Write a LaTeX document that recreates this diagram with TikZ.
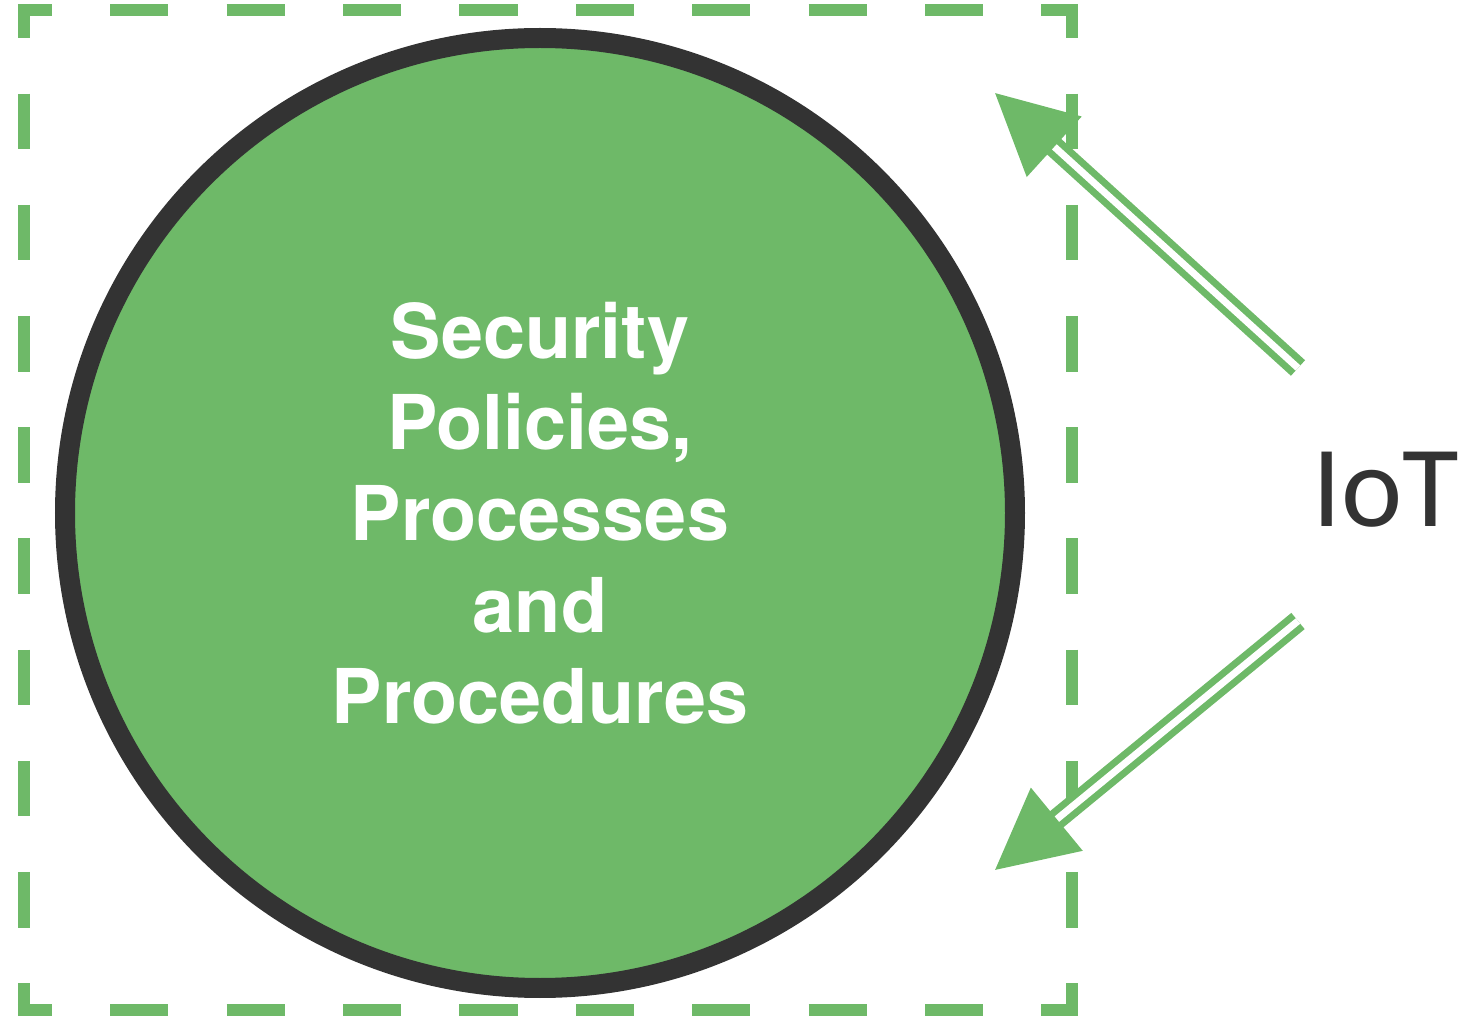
\documentclass[tikz,border=0pt]{standalone}
\usepackage{fontspec}
\setmainfont{TeX Gyre Heros}
\newfontfamily\iotfont{Carlito}
\usetikzlibrary{arrows.meta,positioning}
\definecolor{secgreen}{RGB}{110,185,104}
\definecolor{ringgray}{RGB}{51,51,51}

\tikzset{
	policy/.style={circle,draw=ringgray,fill=secgreen,line width=0.2cm,
		minimum size=9.5cm,inner sep=0pt,text=white,align=center,
		font=\bfseries\fontsize{21.5}{26}\selectfont},
	iotlabel/.style={text=ringgray,font=\iotfont\fontsize{33}{36}\selectfont},
	iotarrow/.style={draw=secgreen,line width=0.07cm,double=white,
		double distance=0.07cm,-{Triangle[length=0.8cm,width=0.8cm]}},
	framedash/.style={secgreen,line width=0.12cm}
}

\begin{document}
\begin{tikzpicture}
	
	\useasboundingbox (0,0) rectangle (14.68,10.18);
	
	% dashed frame, one side at a time so each corner gets its own dash
	\foreach \from/\to/\per in
	{
		{(0.18,10.08)}/{(10.78,10.08)}/0.582,
		{(0.18,0.08)}/{(10.78,0.08)}/0.582,
		{(0.24,10.14)}/{(0.24,0.02)}/0.556,
		{(10.72,10.14)}/{(10.72,0.02)}/0.556
	}
	{
		\pgfmathsetmacro{\ph}{\per-0.34}
		\draw[framedash,dash pattern=on \per cm off \per cm,dash phase=\ph cm]
		\from -- \to;
	}
	
	\node[policy] (policies) at (5.40,5.05)
	{Security\\Policies,\\Processes\\and\\Procedures};
	
	\node[iotlabel] (iot) at (13.86,5.28) {IoT};
	
	\coordinate (upfrom) at (12.98,6.50);
	\coordinate (upto) at (9.95,9.25);
	\coordinate (downfrom) at (12.98,3.97);
	\coordinate (downto) at (9.95,1.48);
	
	\draw[iotarrow] (upfrom) -- (upto);
	\draw[iotarrow] (downfrom) -- (downto);
	
\end{tikzpicture}
\end{document}
